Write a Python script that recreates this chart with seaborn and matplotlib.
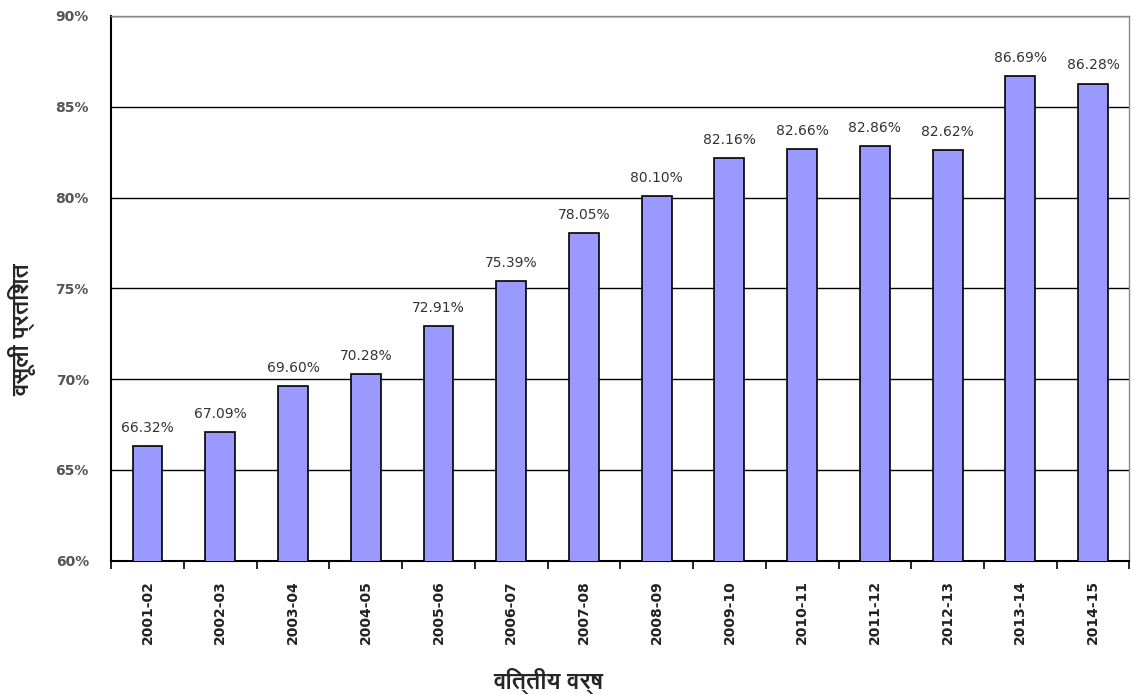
import pandas as pd
import seaborn as sns
import matplotlib.pyplot as plt
from matplotlib import font_manager

# Data
years = ["2001-02", "2002-03", "2003-04", "2004-05", "2005-06", "2006-07", "2007-08",
         "2008-09", "2009-10", "2010-11", "2011-12", "2012-13", "2013-14", "2014-15"]
recovery_pct = [66.32, 67.09, 69.60, 70.28, 72.91, 75.39, 78.05,
                80.10, 82.16, 82.66, 82.86, 82.62, 86.69, 86.28]
y_ticks = [60, 65, 70, 75, 80, 85, 90]

df = pd.DataFrame({"year": years, "pct": recovery_pct})

sns.set_theme(style="white")
plt.rcParams["font.family"] = ["DejaVu Sans"]
# Devanagari-capable font for the axis titles, if one exists
names = {f.name for f in font_manager.fontManager.ttflist}
deva = [n for n in names if "Devanagari" in n or n in ("Lohit Devanagari", "Mangal", "FreeSans")]
label_family = deva + ["DejaVu Sans"]

fig = plt.figure(figsize=(11.34, 6.94), dpi=100)
ax = fig.add_axes([0.098, 0.192, 0.898, 0.785])

sns.barplot(data=df, x="year", y="pct", color="#9999FF", saturation=1,
            width=0.41, edgecolor="black", linewidth=1.2, ax=ax, zorder=3)

ax.set_ylim(60, 90)
ax.set_yticks(y_ticks)
ax.set_yticklabels([f"{t}%" for t in y_ticks], fontsize=10, fontweight="bold", color="#555555")
ax.yaxis.grid(True, color="black", linewidth=1, zorder=0)
ax.set_xlim(-0.5, len(years) - 0.5)

# x ticks sit between categories
ax.set_xticks(range(len(years)))
ax.set_xticklabels(years, rotation=90, fontsize=10, fontweight="bold", color="#222222")
ax.tick_params(axis="x", which="major", bottom=True, length=0, pad=14)
ax.set_xticks([i - 0.5 for i in range(len(years) + 1)], minor=True)
ax.tick_params(axis="x", which="minor", bottom=True, length=6, width=1.2,
               color="black", direction="out")
ax.tick_params(axis="y", length=0, pad=16)

for i, v in enumerate(recovery_pct):
    ax.annotate(f"{v:.2f}%", (i, v), xytext=(0, 8), textcoords="offset points",
                ha="center", va="bottom", fontsize=10, color="#333333")

for side in ["left", "bottom"]:
    ax.spines[side].set_color("black")
    ax.spines[side].set_linewidth(1.5)
for side in ["top", "right"]:
    ax.spines[side].set_color("#888888")
    ax.spines[side].set_linewidth(1)

ax.set_xlabel("वित्तीय वर्ष", fontsize=17, fontweight="bold", family=label_family)
ax.set_ylabel("वसूली प्रतिशत", fontsize=17, fontweight="bold", family=label_family)
ax.xaxis.label.set_va("center")
ax.yaxis.label.set_va("center")
ax.xaxis.set_label_coords(0.429, -0.222)
ax.yaxis.set_label_coords(-0.087, 0.424)

fig.savefig("out.png", dpi=100)
